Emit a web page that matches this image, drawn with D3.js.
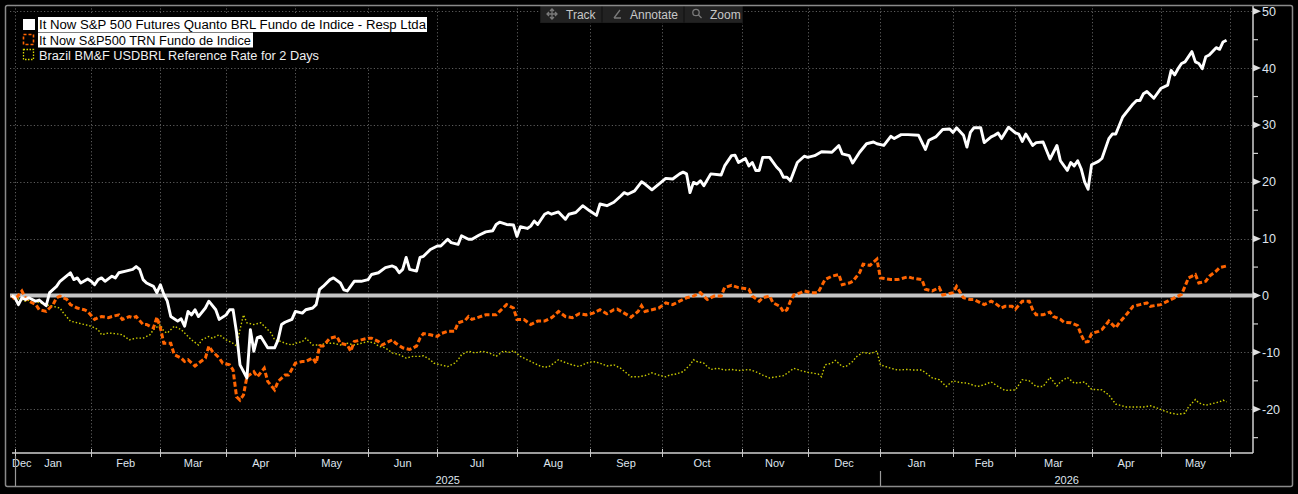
<!DOCTYPE html>
<html><head><meta charset="utf-8">
<script src="https://cdn.jsdelivr.net/npm/d3@7"></script>
<style>
html,body{margin:0;padding:0;background:#000;}
svg{display:block;}
text{font-family:"Liberation Sans",Arial,sans-serif;}
</style></head><body>
<svg id="chart" width="1298" height="494"></svg>
<script>
// ---- Axis data (x = trading-day index since 1 Jan 2025) ----
const monthStartIdx = [0,22,42,61,81,102,122,145,166,187,210,229,250,271,289,311,331,351];
const monthLabels = ["Jan","Feb","Mar","Apr","May","Jun","Jul","Aug","Sep","Oct","Nov","Dec","Jan","Feb","Mar","Apr","May"];
const firstLabel = "Dec";
const yearStartIdx = [0,250];
const yearLabels = ["2025","2026"];
const yMajorTicks = [50,40,30,20,10,0,-10,-20];
const yMinorTicks = [45,35,25,15,5,-5,-15,-25];
const seriesNames = [
  "It Now S&P 500 Futures Quanto BRL Fundo de Indice - Resp Ltda",
  "It Now S&P500 TRN Fundo de Indice",
  "Brazil BM&F USDBRL Reference Rate for 2 Days"
];
const toolbarLabels = ["Track","Annotate","Zoom"];

// ---- Series: [trading-day index, % change] ----
const quantoFund = [[-1,0],[0,-0.4],[1,-1.6],[2,-0.4],[3,-0.7],[4,-0.4],[6,-1.0],[7,-0.8],[9,-1.8],[10,0.5],[12,1.6],[13,2.5],[16,4.0],[17,2.8],[18,3.1],[19,2.2],[21,2.9],[22,2.5],[23,1.9],[24,2.8],[25,3.1],[26,2.5],[28,3.4],[29,3.1],[30,4.0],[32,4.3],[34,4.6],[35,5.1],[36,4.6],[37,2.8],[38,2.2],[40,1.6],[41,0.5],[42,1.9],[43,0.2],[44,-1.0],[45,-3.7],[47,-4.5],[48,-4.1],[49,-5.4],[50,-2.8],[51,-3.4],[52,-2.5],[53,-3.7],[55,-2.2],[56,-1.0],[58,-2.5],[59,-4.2],[61,-3.4],[62,-2.5],[63,-2.5],[64,-6.5],[65,-12.2],[67,-14.5],[68,-6.0],[69,-9.8],[70,-7.4],[71,-7.2],[73,-9.2],[75,-9.2],[76,-7.8],[77,-5.1],[78,-4.7],[80,-4.2],[81,-2.8],[83,-3.1],[84,-2.5],[86,-2.2],[87,-1.6],[88,1.1],[89,1.6],[91,2.8],[92,3.1],[94,2.2],[95,1.0],[96,0.8],[98,2.5],[100,2.5],[102,2.8],[103,3.7],[105,4.0],[107,4.9],[109,5.2],[110,4.9],[111,4.0],[112,4.6],[113,6.7],[114,4.6],[116,4.3],[117,6.7],[118,6.9],[120,8.1],[122,8.7],[123,8.7],[125,9.9],[126,9.3],[128,9.0],[129,10.5],[131,9.9],[132,9.9],[134,10.6],[136,11.2],[138,11.4],[139,12.5],[140,12.9],[142,12.5],[144,12.4],[145,10.4],[146,12.1],[148,11.8],[149,12.2],[150,13.1],[151,12.5],[153,14.3],[154,14.6],[155,14.3],[157,14.7],[159,13.4],[160,14.3],[162,14.6],[164,15.8],[166,14.9],[168,14.1],[169,16.1],[171,15.8],[173,16.4],[175,17.5],[176,18.1],[177,17.8],[179,18.4],[181,20.0],[182,19.6],[184,18.6],[186,19.6],[188,20.6],[190,20.5],[192,21.4],[193,21.7],[194,21.4],[195,18.1],[196,19.9],[197,19.6],[198,20.2],[199,19.3],[201,21.4],[204,21.2],[205,22.8],[207,24.6],[208,24.7],[209,23.4],[211,24.1],[212,22.8],[213,23.4],[214,22.0],[215,22.0],[216,24.3],[218,24.3],[220,22.6],[221,22.0],[222,20.8],[223,20.8],[224,20.2],[226,23.4],[228,24.5],[229,24.3],[231,24.6],[233,25.3],[236,25.2],[238,26.4],[239,24.9],[241,24.6],[242,23.3],[244,25.2],[246,26.7],[248,27.0],[249,26.7],[251,26.4],[253,28.0],[254,27.6],[256,28.3],[258,28.3],[261,28.2],[263,25.7],[264,27.3],[266,27.9],[268,29.2],[270,29.3],[271,28.7],[272,29.5],[274,28.2],[275,26.1],[276,28.7],[277,29.5],[279,29.5],[280,26.9],[282,27.9],[283,28.2],[284,28.6],[285,27.6],[287,29.6],[289,28.6],[290,28.4],[291,27.1],[292,28.4],[294,26.4],[295,26.9],[297,27.0],[299,24.0],[301,26.4],[302,23.7],[304,22.0],[305,23.4],[306,22.8],[307,23.7],[308,22.3],[309,20.0],[310,18.7],[311,23.0],[313,23.6],[314,24.1],[316,27.6],[317,28.4],[318,28.4],[320,31.4],[323,33.7],[324,34.3],[325,34.3],[326,35.5],[327,35.9],[329,34.7],[331,36.4],[333,37.0],[334,39.6],[335,38.8],[336,39.9],[337,40.8],[338,41.1],[340,42.9],[341,41.1],[342,40.8],[343,39.9],[344,42.0],[345,42.3],[347,43.6],[348,43.3],[349,44.6],[350,44.9]];

const trnFund = [[-1,0],[0,-0.7],[2,0.8],[3,-0.4],[4,-1.0],[6,-1.6],[7,-2.5],[9,-2.8],[11,-1.6],[12,-0.4],[13,-0.1],[15,-0.7],[16,-1.6],[18,-2.2],[20,-2.5],[21,-2.8],[23,-4.2],[24,-3.9],[25,-3.7],[27,-3.9],[28,-3.7],[30,-3.4],[31,-4.2],[33,-3.7],[34,-3.9],[35,-3.7],[37,-5.1],[38,-5.1],[40,-5.7],[41,-3.8],[42,-5.7],[43,-8.4],[45,-8.4],[46,-10.4],[48,-11.0],[49,-11.6],[50,-11.3],[52,-12.4],[53,-11.9],[55,-11.0],[56,-8.9],[57,-9.8],[59,-11.0],[60,-11.9],[62,-12.2],[63,-13.1],[64,-17.8],[65,-18.4],[66,-17.5],[67,-14.3],[69,-13.4],[70,-14.3],[72,-12.8],[73,-15.1],[75,-16.6],[76,-15.1],[78,-14.0],[79,-14.0],[81,-11.9],[83,-11.6],[84,-11.6],[86,-11.0],[87,-11.9],[88,-8.9],[89,-8.9],[91,-7.5],[93,-7.2],[94,-8.4],[96,-8.7],[97,-9.8],[98,-8.1],[100,-7.8],[102,-7.5],[103,-7.5],[105,-8.1],[106,-8.7],[109,-7.8],[110,-8.4],[112,-9.2],[114,-9.5],[116,-8.9],[117,-7.5],[118,-6.7],[120,-6.9],[122,-7.2],[123,-6.7],[125,-6.3],[127,-6.3],[128,-4.8],[130,-4.4],[131,-3.7],[132,-4.2],[134,-3.8],[136,-3.4],[139,-3.4],[140,-2.8],[142,-1.6],[143,-1.9],[144,-2.2],[145,-4.2],[147,-4.2],[149,-5.1],[151,-4.5],[153,-4.5],[155,-3.9],[156,-3.4],[157,-2.8],[159,-3.7],[161,-3.9],[163,-3.2],[165,-3.4],[167,-3.1],[169,-2.5],[171,-3.2],[173,-2.5],[174,-2.4],[176,-3.1],[178,-3.8],[180,-2.8],[181,-1.8],[182,-2.8],[184,-2.5],[186,-2.2],[188,-1.3],[190,-1.6],[192,-1.0],[194,-0.4],[196,-0.1],[198,0.5],[200,-0.7],[202,-0.1],[204,-0.1],[205,1.4],[207,1.8],[209,1.4],[212,1.1],[213,-0.1],[215,-1.0],[216,-0.4],[218,-0.1],[219,-1.3],[221,-1.9],[222,-2.9],[223,-2.5],[224,-1.0],[225,0.1],[227,0.5],[228,0.8],[230,0.5],[232,0.5],[234,2.8],[236,3.4],[238,3.7],[239,1.9],[241,2.2],[242,2.5],[244,4.0],[245,5.5],[247,5.3],[249,6.4],[250,3.1],[253,2.8],[255,2.8],[258,3.3],[259,3.1],[262,2.8],[263,1.1],[265,0.8],[267,1.4],[268,0.1],[271,0.5],[272,1.6],[274,-0.4],[276,-0.7],[277,-0.7],[279,-1.3],[280,-1.6],[282,-1.0],[283,-1.3],[285,-2.2],[286,-1.9],[288,-1.9],[289,-2.4],[291,-1.0],[293,-1.0],[294,-2.5],[295,-3.4],[297,-3.4],[299,-2.9],[300,-3.7],[302,-4.2],[303,-4.7],[305,-4.8],[307,-5.3],[308,-6.9],[309,-8.2],[310,-8.1],[311,-6.7],[313,-6.3],[314,-6.0],[316,-4.5],[318,-5.7],[319,-4.8],[321,-3.4],[323,-1.9],[325,-1.6],[327,-1.3],[328,-1.9],[331,-1.6],[333,-1.0],[336,-0.1],[337,0.2],[338,1.6],[339,3.1],[341,3.7],[342,2.2],[344,2.5],[345,3.4],[347,4.3],[348,4.9],[350,5.2]];

const usdbrlRate = [[-1,0],[0,-0.4],[3,-1.0],[5,-0.7],[7,-1.3],[9,-1.6],[11,-1.9],[13,-2.2],[14,-3.1],[16,-4.5],[18,-4.8],[20,-5.1],[22,-5.4],[24,-6.0],[25,-6.9],[27,-6.6],[29,-6.7],[31,-6.9],[33,-7.8],[35,-7.5],[37,-7.5],[39,-6.9],[40,-6.0],[42,-5.1],[43,-6.3],[44,-6.6],[46,-5.4],[48,-6.0],[49,-6.6],[51,-7.8],[53,-8.7],[54,-7.8],[56,-7.2],[57,-7.5],[59,-6.9],[61,-7.8],[63,-8.4],[64,-8.9],[65,-6.0],[66,-3.4],[67,-4.8],[69,-5.1],[71,-4.8],[72,-5.4],[74,-6.6],[75,-7.8],[77,-8.1],[78,-8.4],[80,-8.7],[81,-8.4],[83,-8.1],[84,-7.5],[86,-8.7],[88,-8.7],[90,-8.4],[92,-8.4],[94,-8.7],[96,-8.4],[98,-8.7],[100,-8.4],[102,-8.1],[104,-8.4],[105,-8.9],[107,-9.2],[109,-10.1],[111,-10.4],[113,-11.0],[115,-10.7],[117,-10.7],[118,-10.6],[120,-11.3],[121,-11.9],[123,-12.2],[125,-12.5],[127,-11.9],[128,-11.3],[129,-10.4],[131,-9.8],[133,-10.1],[135,-9.8],[137,-10.1],[139,-10.7],[141,-9.8],[143,-10.0],[144,-9.7],[146,-10.7],[148,-11.3],[150,-11.9],[152,-12.5],[154,-12.6],[155,-12.2],[157,-11.3],[159,-11.8],[161,-12.2],[163,-12.5],[165,-11.9],[167,-11.6],[169,-11.9],[171,-12.4],[173,-12.2],[175,-12.8],[178,-14.3],[180,-14.3],[182,-14.1],[184,-13.6],[186,-14.0],[188,-14.3],[189,-14.0],[191,-13.8],[193,-13.4],[195,-12.2],[196,-11.3],[197,-11.6],[199,-11.9],[200,-12.5],[201,-13.0],[203,-12.8],[205,-13.1],[207,-13.0],[209,-13.2],[211,-13.1],[212,-13.0],[214,-13.4],[216,-14.0],[218,-14.5],[220,-14.3],[222,-14.1],[223,-13.7],[225,-12.8],[227,-13.2],[229,-13.5],[230,-13.6],[232,-13.8],[233,-14.3],[234,-12.2],[236,-11.9],[237,-11.4],[239,-12.5],[240,-12.5],[242,-11.6],[243,-10.8],[245,-10.0],[247,-10.2],[249,-9.8],[250,-12.2],[253,-12.8],[255,-13.1],[258,-13.0],[259,-13.1],[262,-13.1],[265,-14.5],[267,-14.8],[269,-16.0],[271,-15.0],[273,-15.3],[275,-15.4],[278,-16.0],[280,-15.7],[282,-15.2],[284,-16.0],[286,-16.7],[289,-16.6],[291,-14.8],[293,-15.0],[295,-16.0],[297,-16.0],[299,-14.4],[301,-15.9],[302,-15.2],[304,-14.4],[306,-15.4],[308,-15.3],[309,-15.2],[311,-16.5],[314,-16.6],[316,-17.5],[318,-19.1],[321,-19.6],[324,-19.6],[326,-19.6],[328,-19.4],[330,-19.8],[332,-20.3],[334,-20.7],[336,-20.9],[338,-20.7],[339,-19.6],[341,-18.3],[342,-18.9],[344,-19.3],[346,-19.0],[348,-18.7],[349,-18.4],[350,-18.7]];

// ---- Layout ----
const W = 1298, H = 494;
const plotL = 10, plotR = 1253, plotT = 5, plotB = 453;
const svg = d3.select("#chart");
const x = d3.scaleLinear().domain([0, 351]).range([15, 1230]);
const y = d3.scaleLinear().domain([-27.7, 51.1]).range([plotB, plotT]);

svg.append("rect").attr("width", W).attr("height", H).attr("fill", "#000");

// grid
const grid = svg.append("g").attr("stroke", "#5c5c5c").attr("stroke-width", 1).attr("stroke-dasharray", "1.2,2.2");
grid.selectAll("line.v").data(monthStartIdx).join("line")
  .attr("x1", d => Math.round(x(d)) + 0.5).attr("x2", d => Math.round(x(d)) + 0.5)
  .attr("y1", plotT).attr("y2", plotB);
grid.selectAll("line.h").data(yMajorTicks.filter(d => d !== 0)).join("line")
  .attr("x1", plotL).attr("x2", plotR)
  .attr("y1", d => Math.round(y(d)) + 0.5).attr("y2", d => Math.round(y(d)) + 0.5);

// zero line
svg.append("line").attr("x1", plotL).attr("x2", plotR)
  .attr("y1", y(0)).attr("y2", y(0))
  .attr("stroke", "#c4c4c4").attr("stroke-width", 4);

// series
const line = d3.line().x(d => x(d[0])).y(d => y(d[1]));
svg.append("path").datum(usdbrlRate).attr("d", line).attr("fill", "none")
  .attr("stroke", "#cccc00").attr("stroke-width", 1.4).attr("stroke-dasharray", "1.5,2");
svg.append("path").datum(trnFund).attr("d", line).attr("fill", "none")
  .attr("stroke", "#ff6400").attr("stroke-width", 3).attr("stroke-dasharray", "5,2.5");
svg.append("path").datum(quantoFund).attr("d", line).attr("fill", "none")
  .attr("stroke", "#ffffff").attr("stroke-width", 2.9).attr("stroke-linejoin", "round");

// right axis
svg.append("line").attr("x1", plotR).attr("x2", plotR).attr("y1", plotT).attr("y2", plotB)
  .attr("stroke", "#d0d0d0").attr("stroke-width", 1.5);
svg.selectAll("path.tri").data(yMajorTicks).join("path")
  .attr("d", d => { const yy = y(d); return `M${plotR},${yy-3.5}L${plotR+8},${yy}L${plotR},${yy+3.5}Z`; })
  .attr("fill", "#e0e0e0");
svg.selectAll("line.minor").data(yMinorTicks).join("line")
  .attr("x1", plotR).attr("x2", plotR + 5)
  .attr("y1", d => y(d)).attr("y2", d => y(d))
  .attr("stroke", "#d0d0d0").attr("stroke-width", 1.2);
svg.selectAll("text.ylab").data(yMajorTicks).join("text")
  .attr("x", plotR + 9).attr("y", d => y(d) + 4.5)
  .attr("fill", "#dfe4ee").attr("font-size", 12.5)
  .text(d => d < 0 ? "-" + Math.abs(d) : d);

// bottom axis
svg.append("line").attr("x1", plotL + 2).attr("x2", plotR).attr("y1", plotB).attr("y2", plotB)
  .attr("stroke", "#d0d0d0").attr("stroke-width", 1.5);
svg.selectAll("line.xt").data(monthStartIdx).join("line")
  .attr("x1", d => Math.round(x(d)) + 0.5).attr("x2", d => Math.round(x(d)) + 0.5)
  .attr("y1", plotB - 4).attr("y2", plotB + 4)
  .attr("stroke", "#c8c8c8").attr("stroke-width", 1);
const mlab = monthLabels.map((m, i) => ({ m, cx: (x(monthStartIdx[i]) + x(monthStartIdx[i + 1])) / 2 }));
svg.selectAll("text.mlab").data(mlab).join("text")
  .attr("x", d => d.cx).attr("y", 466.5).attr("text-anchor", "middle")
  .attr("fill", "#dfe4ee").attr("font-size", 11).text(d => d.m);
svg.append("text").attr("x", 12).attr("y", 466.5).attr("fill", "#dfe4ee").attr("font-size", 11).text(firstLabel);
// year separators + labels
svg.selectAll("line.ysep").data(yearStartIdx).join("line")
  .attr("x1", d => Math.round(x(d)) + 0.5).attr("x2", d => Math.round(x(d)) + 0.5)
  .attr("y1", (d, i) => i === 0 ? plotB + 3 : 471).attr("y2", 487)
  .attr("stroke", "#9a9a9a").attr("stroke-width", 1.2);
const yEnds = [x(yearStartIdx[1]), plotR];
svg.selectAll("text.yr").data(yearLabels).join("text")
  .attr("x", (d, i) => i === 0 ? (x(yearStartIdx[0]) + x(yearStartIdx[1])) / 2 : (yEnds[0] + yEnds[1]) / 2)
  .attr("y", 484).attr("text-anchor", "middle")
  .attr("fill", "#dfe4ee").attr("font-size", 11).text(d => d);

// legend
const lg = svg.append("g");
lg.append("rect").attr("x", 17).attr("y", 14).attr("width", 416).attr("height", 53).attr("fill", "#000");
const rowsY = [17, 32.5, 48];
const hlW = [389, 215, 0];
rowsY.forEach((ry, i) => {
  if (hlW[i] > 0) lg.append("rect").attr("x", 38).attr("y", ry).attr("width", hlW[i]).attr("height", 15).attr("fill", "#fff");
});
lg.append("rect").attr("x", 23).attr("y", 19).attr("width", 12).attr("height", 11).attr("fill", "#fff");
lg.append("rect").attr("x", 23.5).attr("y", 34.5).attr("width", 10).attr("height", 10).attr("fill", "none")
  .attr("stroke", "#ff6400").attr("stroke-width", 1.6).attr("stroke-dasharray", "3,2");
lg.append("rect").attr("x", 23.5).attr("y", 49.5).attr("width", 10).attr("height", 10).attr("fill", "none")
  .attr("stroke", "#d8d800").attr("stroke-width", 1.3).attr("stroke-dasharray", "1.5,1.5");
const lgCol = ["#000", "#000", "#f0f0f0"];
const lgLen = [387, 212, 280];
seriesNames.forEach((n, i) => {
  lg.append("text").attr("x", 39).attr("y", rowsY[i] + 12).attr("font-size", 12.5)
    .attr("fill", lgCol[i]).attr("textLength", lgLen[i]).attr("lengthAdjust", "spacingAndGlyphs").text(n);
});

// toolbar
const tb = svg.append("g");
tb.append("rect").attr("x", 540).attr("y", 5).attr("width", 203).attr("height", 18).attr("fill", "#181818");
const segs = [[541, 601], [603, 683], [685, 742]];
segs.forEach(s => tb.append("rect").attr("x", s[0]).attr("y", 5.5).attr("width", s[1] - s[0]).attr("height", 17).attr("fill", "#222"));
const tbX = [566, 630, 710];
toolbarLabels.forEach((t, i) => tb.append("text").attr("x", tbX[i]).attr("y", 18.5).attr("font-size", 12).attr("fill", "#c8c8c8").text(t));
// icons
const ic = tb.append("g").attr("stroke", "#7a7a7a").attr("fill", "none").attr("stroke-width", 1.3);
ic.append("path").attr("d", "M552,9V19M547,14H557M550,11L552,9L554,11M550,17L552,19L554,17M549,12L547,14L549,16M555,12L557,14L555,16");
ic.append("path").attr("d", "M614,18H621M614,18L620,10");
ic.append("circle").attr("cx", 696).attr("cy", 12.5).attr("r", 3.2);
ic.append("path").attr("d", "M698.5,15L701.5,18");

// outer border
svg.append("rect").attr("x", 5.5).attr("y", 5.5).attr("width", 1287).attr("height", 481).attr("rx", 2)
  .attr("fill", "none").attr("stroke", "#8a8a8a").attr("stroke-width", 1.5);
</script>
</body></html>
